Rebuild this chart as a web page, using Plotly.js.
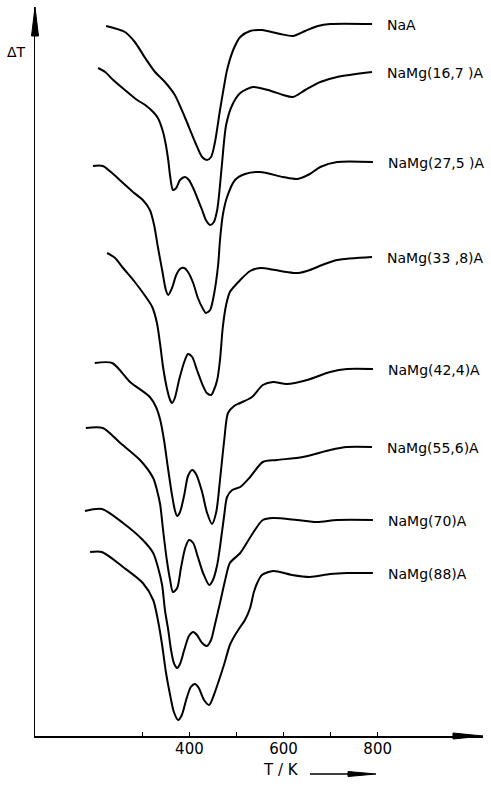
<!DOCTYPE html>
<html>
<head>
<meta charset="utf-8">
<script src="https://cdn.plot.ly/plotly-3.0.1.min.js"></script>
<style>
  html, body { margin: 0; padding: 0; background: #fff; }
  #chart { width: 491px; height: 789px; }
</style>
</head>
<body>
<div id="chart"></div>
<script>
// ---- Data: temperature T (K) and DTA signal ΔT (arbitrary units, curves stacked) ----
const labels = ["NaA", "NaMg(16,7 )A", "NaMg(27,5 )A", "NaMg(33 ,8)A", "NaMg(42,4)A", "NaMg(55,6)A", "NaMg(70)A", "NaMg(88)A"];

const tNaA = [223,263,284,306,327,348,369,391,412,427,437,446,454,465,474,480,493,508,529,554,593,620,646,673,699,788];
const yNaA = [710,704,694,678,664,654,641,618,594,579,576,579,593,626,651,666,686,699,705,706,702,700,705,710,712,712];

const tMg167 = [206,221,238,263,289,306,323,333,344,350,355,359,365,372,380,391,399,408,416,427,435,444,452,459,463,469,478,491,508,535,567,599,620,646,678,714,788];
const yMg167 = [668,664,656,646,636,631,624,618,604,591,576,560,546,548,556,559,556,548,539,526,516,511,514,526,541,571,611,631,643,649,646,641,639,646,654,659,664];

const tMg275 = [195,216,238,259,280,301,316,325,333,342,350,355,363,372,380,389,397,408,418,429,435,444,452,461,465,471,480,497,518,550,599,629,656,678,714,790];
const yMg275 = [570,570,562,553,544,536,526,511,489,466,446,441,448,461,467,468,464,453,438,427,423,426,441,471,496,521,539,556,562,564,559,557,562,569,574,574];

const tMg338 = [225,242,259,284,306,321,331,338,344,352,359,363,369,378,389,397,406,416,429,437,446,452,459,465,471,478,486,508,529,550,582,607,631,656,682,714,788];
const yMg338 = [483,478,468,454,440,429,413,391,369,348,336,333,338,356,374,382,379,366,350,343,341,346,356,376,409,431,444,456,465,468,466,464,463,466,471,476,479];

const tMg424 = [199,236,274,316,329,338,346,355,363,369,374,380,389,397,406,414,427,437,448,457,465,474,482,495,508,533,556,578,607,650,699,735,790];
const yMg424 = [373,373,354,339,329,316,296,266,241,226,220,224,241,260,266,262,244,224,212,224,256,296,323,330,333,339,351,354,352,356,364,367,367];

const tMg556 = [180,216,253,295,323,331,338,344,352,359,365,374,382,391,399,408,418,429,442,450,459,465,474,480,491,508,529,556,586,641,699,735,788];
const yMg556 = [308,308,293,276,258,246,231,206,176,156,144,148,168,188,196,193,179,163,151,156,171,189,221,239,246,249,259,274,276,279,286,289,289];

const tMg70 = [178,214,259,301,323,333,342,348,355,361,367,374,380,389,399,408,416,427,437,446,454,465,476,486,508,535,556,578,629,671,714,790];
const yMg70 = [225,227,213,196,183,169,151,126,106,86,73,68,72,86,100,104,101,93,90,96,111,133,156,173,183,203,216,218,216,214,216,216];

const tMg88 = [189,214,259,301,323,333,342,350,359,367,376,384,393,403,412,420,431,442,452,463,474,486,497,508,518,529,537,544,554,578,618,656,699,735,790];
const yMg88 = [184,184,169,153,136,116,91,64,41,24,16,21,36,49,52,48,36,31,41,56,72,91,101,109,116,128,144,153,161,165,161,159,162,163,163];

const xTickVals = [300, 400, 500, 600, 700, 800];
const xTickText = ["", "400", "", "600", "", "800"];

// ---- Build figure ----
const seriesT = [tNaA, tMg167, tMg275, tMg338, tMg424, tMg556, tMg70, tMg88];
const seriesY = [yNaA, yMg167, yMg275, yMg338, yMg424, yMg556, yMg70, yMg88];

const FONT = "DejaVu Sans, Liberation Sans, sans-serif";
const traces = seriesT.map((t, i) => ({
  type: "scatter", mode: "lines", x: t, y: seriesY[i], name: labels[i],
  line: { color: "#000", width: 2, shape: "spline", smoothing: 0.75 },
  hoverinfo: "skip", showlegend: false
}));

// plot area geometry helpers (paper coordinates from pixel offsets)
const L = 35, R = 8, TOP = 7, B = 53, W = 491, H = 789;
const PW = W - L - R, PH = H - TOP - B;
const px = x => (x - L) / PW;
const py = y => (H - B - y) / PH;

const annotations = seriesT.map((t, i) => ({
  x: t[t.length - 1], y: seriesY[i][seriesY[i].length - 1], xref: "x", yref: "y",
  text: labels[i], showarrow: false, xanchor: "left", yanchor: "middle", xshift: 13, yshift: -1,
  font: { family: FONT, size: 14, color: "#000" }
}));
annotations.push({
  x: px(16), y: py(52), xref: "paper", yref: "paper", text: "ΔT", showarrow: false,
  xanchor: "center", yanchor: "middle", font: { family: FONT, size: 14, color: "#000" }
});
annotations.push({
  x: px(281), y: py(770), xref: "paper", yref: "paper", text: "T / K", showarrow: false,
  xanchor: "center", yanchor: "middle", font: { family: FONT, size: 15, color: "#000" }
});

const tri = (pts) => "M " + pts.map(p => px(p[0]) + "," + py(p[1])).join(" L ") + " Z";
const shapes = [
  // y-axis arrowhead
  { type: "path", xref: "paper", yref: "paper", path: tri([[35, 7], [31.5, 36], [38.5, 36]]), fillcolor: "#000", line: { color: "#000", width: 1 } },
  // x-axis arrowhead
  { type: "path", xref: "paper", yref: "paper", path: tri([[483, 736], [453, 733], [453, 739]]), fillcolor: "#000", line: { color: "#000", width: 1 } },
  // T/K arrow shaft
  { type: "line", xref: "paper", yref: "paper", x0: px(310), y0: py(774), x1: px(350), y1: py(774), line: { color: "#000", width: 1.5 } },
  // T/K arrow head
  { type: "path", xref: "paper", yref: "paper", path: tri([[376, 774], [348, 771.5], [348, 776.5]]), fillcolor: "#000", line: { color: "#000", width: 1 } }
];

const layout = {
  width: W, height: H,
  margin: { l: L, r: R, t: TOP, b: B, pad: 0 },
  paper_bgcolor: "#fff", plot_bgcolor: "#fff",
  showlegend: false,
  xaxis: {
    range: [550 + (L - 260) * 2.125, 550 + (W - R - 260) * 2.125],
    showgrid: false, zeroline: false, showline: true, linecolor: "#000", linewidth: 1.5,
    tickmode: "array", tickvals: xTickVals, ticktext: xTickText,
    ticks: "inside", ticklen: 4, tickwidth: 1.2, tickcolor: "#000",
    ticklabelstandoff: -2,
    tickfont: { family: FONT, size: 15, color: "#000" }
  },
  yaxis: {
    range: [0, PH],
    showgrid: false, zeroline: false, showline: true, linecolor: "#000", linewidth: 1.5,
    showticklabels: false, ticks: ""
  },
  annotations: annotations,
  shapes: shapes
};

Plotly.newPlot("chart", traces, layout, { displayModeBar: false, staticPlot: true });
</script>
</body>
</html>
